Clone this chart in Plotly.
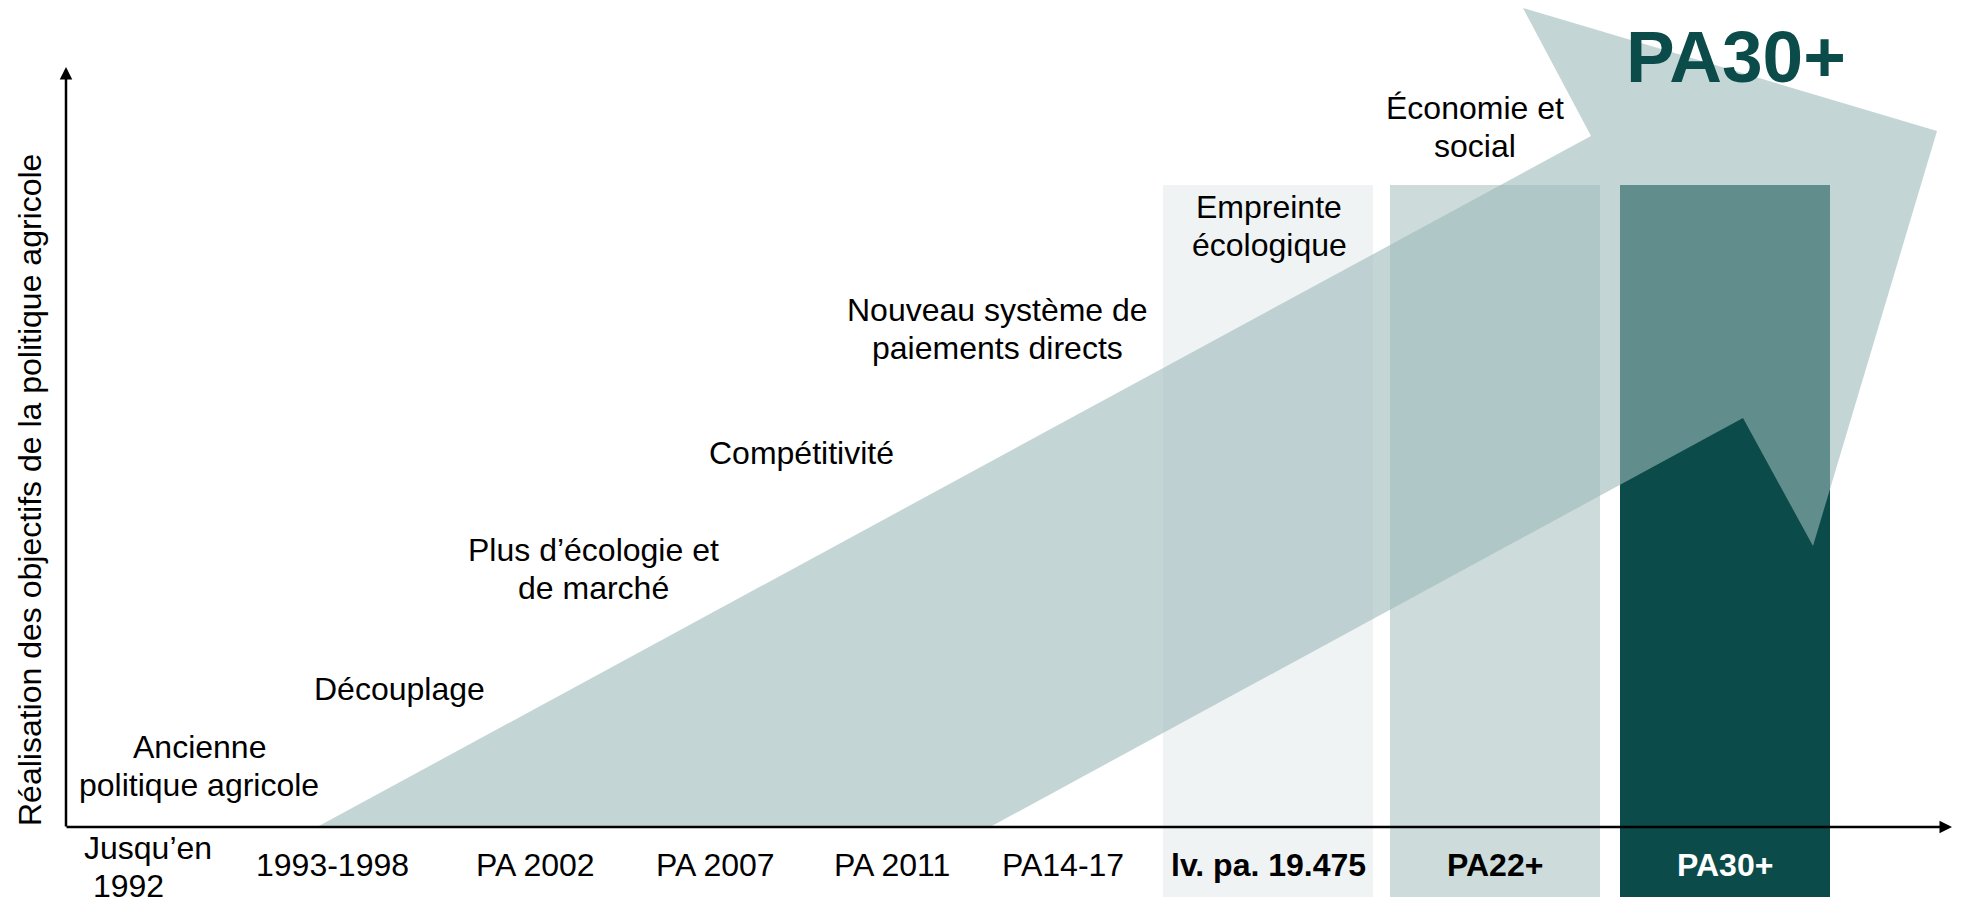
import plotly.graph_objects as go

# ---------------- data ----------------
# policy periods (x axis labels) and their positions along the time axis
periods = ["Jusqu’en<br>\u00a01992", "1993-1998", "PA 2002", "PA 2007", "PA 2011",
           "PA14-17", "lv. pa. 19.475", "PA22+", "PA30+"]
period_x = [80, 266, 469, 649, 826, 997, 1202, 1429, 1659]
period_bold = [False, False, False, False, False, False, True, True, True]

# objectives reached by each reform (text labels in the chart area)
objectives = ["Ancienne<br>politique agricole", "Découplage", "Plus d’écologie et<br>de marché",
              "Compétitivité", "Nouveau système de<br>paiements directs",
              "Empreinte<br>écologique", "Économie et<br>social"]
objective_x = [133, 333, 527, 735, 931, 1203, 1409]
objective_y = [61, 138, 258, 374, 498, 601, 700]

# highlighted recent reform periods (columns)
band_periods = ["lv. pa. 19.475", "PA22+", "PA30+"]
band_top = [642, 642, 642]
band_bottom = -70
band_colors = ["#eff3f4", "#cddbdb", "#0b4c4b"]

# big progress arrow (outline vertices)
arrow_x = [251, 1525, 1457, 1871, 1747, 1677, 924]
arrow_y = [0, 691, 819, 696, 281, 409, 0]

# axis extents
y_axis_top = 760
x_axis_end = 1886

# ---------------- figure ----------------
PAGE_W, PAGE_H = 1964, 916
OFF = 8  # default page body margin around the plot div
W, H = PAGE_W - OFF, PAGE_H - OFF
FONT = "Liberation Sans, Arial, sans-serif"
DARK = "#0b4c4b"
X0, Y0 = 66, 827  # page pixel position of the axes origin

fig = go.Figure()

band_x = [period_x[periods.index(p)] for p in band_periods]
fig.add_trace(go.Bar(
    x=band_x, y=[t - band_bottom for t in band_top], base=band_bottom,
    width=210, marker=dict(color=band_colors, line=dict(width=0)),
    hoverinfo="skip", showlegend=False))

fig.add_trace(go.Scatter(
    x=arrow_x + [arrow_x[0]], y=arrow_y + [arrow_y[0]],
    mode="lines", fill="toself", fillcolor="rgba(156,185,185,0.6)",
    line=dict(width=0, color="rgba(0,0,0,0)"), hoverinfo="skip", showlegend=False))

ann = []
# axes with arrowheads
ann.append(dict(x=0, y=y_axis_top, ax=0, ay=-1, axref="x", ayref="y", xref="x", yref="y",
                text="", showarrow=True, arrowhead=2, arrowsize=1, arrowwidth=2.5,
                arrowcolor="black", standoff=0, startstandoff=0))
ann.append(dict(x=x_axis_end, y=0, ax=-1, ay=0, axref="x", ayref="y", xref="x", yref="y",
                text="", showarrow=True, arrowhead=2, arrowsize=1, arrowwidth=2.5,
                arrowcolor="black", standoff=0, startstandoff=0))

# y axis title
ann.append(dict(x=-36, y=337, xref="x", yref="y", showarrow=False, textangle=-90,
                text="Réalisation des objectifs de la politique agricole",
                font=dict(family=FONT, size=32, color="black")))

# objective labels (one annotation per line for tight line spacing)
LS = 38
for txt, x, y in zip(objectives, objective_x, objective_y):
    lines = txt.split("<br>")
    n = len(lines)
    for i, ln in enumerate(lines):
        yy = y + (n - 1) / 2 * LS - i * LS
        ann.append(dict(x=x, y=yy, xref="x", yref="y", showarrow=False, text=ln,
                        xanchor="center", yanchor="middle",
                        font=dict(family=FONT, size=32, color="black")))

# period labels
for p, x, b in zip(periods, period_x, period_bold):
    lines = p.split("<br>")
    n = len(lines)
    col = "white" if p == "PA30+" else "black"
    for i, ln in enumerate(lines):
        yy = -40 + (n - 1) / 2 * LS - i * LS if n > 1 else -38
        t = f"<b>{ln}</b>" if b else ln
        if n > 1:
            ann.append(dict(x=x - 64, y=yy, xref="x", yref="y", showarrow=False, text=t,
                            xanchor="left", yanchor="middle",
                            font=dict(family=FONT, size=32, color=col)))
        else:
            ann.append(dict(x=x, y=yy, xref="x", yref="y", showarrow=False, text=t,
                            xanchor="center", yanchor="middle",
                            font=dict(family=FONT, size=32, color=col)))

# big title
ann.append(dict(x=1670, y=771, xref="x", yref="y", showarrow=False, text="<b>PA30+</b>",
                xanchor="center", yanchor="middle",
                font=dict(family=FONT, size=73, color=DARK)))

fig.update_layout(
    width=W, height=H, margin=dict(l=0, r=0, t=0, b=0),
    paper_bgcolor="white", plot_bgcolor="white",
    xaxis=dict(range=[OFF - X0, OFF - X0 + W], visible=False, fixedrange=True),
    yaxis=dict(range=[Y0 - PAGE_H, Y0 - OFF], visible=False, fixedrange=True),
    annotations=ann, bargap=0, showlegend=False,
)

fig.write_html("out.html")
